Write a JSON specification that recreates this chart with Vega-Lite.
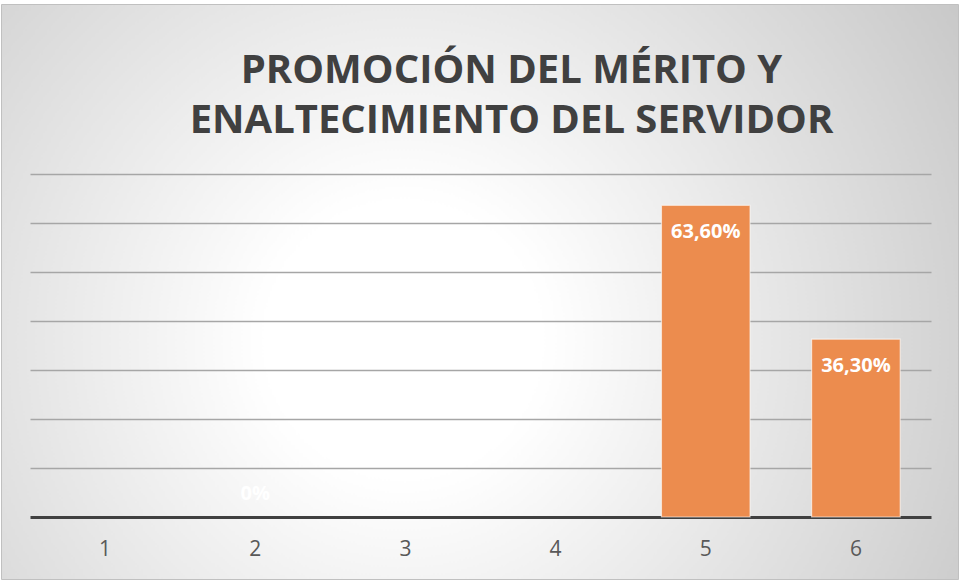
{
  "$schema": "https://vega.github.io/schema/vega-lite/v6.json",
  "width": 957,
  "height": 575,
  "autosize": "none",
  "padding": {"left": 1, "top": 4, "right": 1, "bottom": 2},
  "background": "#ffffff",
  "title": {
    "text": ["PROMOCIÓN DEL MÉRITO Y", "ENALTECIMIENTO DEL SERVIDOR"],
    "font": "Open Sans",
    "fontWeight": "bold",
    "fontSize": 40,
    "lineHeight": 50,
    "color": "#404040",
    "anchor": "middle",
    "offset": -137,
    "dx": 32
  },
  "data": {
    "values": [
      {"cat": "1", "value": null, "label": ""},
      {"cat": "2", "value": 0, "label": "0%"},
      {"cat": "3", "value": null, "label": ""},
      {"cat": "4", "value": null, "label": ""},
      {"cat": "5", "value": 63.6, "label": "63,60%"},
      {"cat": "6", "value": 36.3, "label": "36,30%"}
    ]
  },
  "encoding": {
    "x": {
      "field": "cat",
      "type": "ordinal",
      "scale": {"domain": ["1", "2", "3", "4", "5", "6"], "range": [29, 930], "paddingInner": 0.41, "paddingOuter": 0.205},
      "axis": {
        "title": null,
        "orient": "bottom",
        "offset": -62,
        "labelAngle": 0,
        "labelFont": "Open Sans",
        "labelFontSize": 21,
        "labelColor": "#595959",
        "labelPadding": 21,
        "ticks": false,
        "domainColor": "#404040",
        "domainWidth": 3,
        "grid": false
      }
    },
    "y": {
      "field": "value",
      "type": "quantitative",
      "scale": {"domain": [0, 70], "range": [513, 170], "nice": false, "zero": true},
      "axis": {
        "title": null,
        "labels": false,
        "ticks": false,
        "domain": false,
        "values": [10, 20, 30, 40, 50, 60, 70],
        "grid": true,
        "gridColor": "#a6a6a6",
        "gridWidth": 1.5
      }
    }
  },
  "layer": [
    {
      "mark": {"type": "bar", "color": "#ec8c4e", "stroke": "#ffffff", "strokeOpacity": 0.6, "strokeWidth": 1.2},
      "transform": [{"filter": "datum.value > 0"}]
    },
    {
      "mark": {"type": "text", "font": "Open Sans", "fontWeight": "bold", "fontSize": 20, "color": "#ffffff", "baseline": "top", "dy": 17},
      "transform": [{"filter": "datum.value > 0"}],
      "encoding": {"text": {"field": "label"}}
    },
    {
      "mark": {"type": "text", "font": "Open Sans", "fontWeight": "bold", "fontSize": 20, "color": "#ffffff", "baseline": "alphabetic", "dy": -17},
      "transform": [{"filter": "datum.value == 0"}],
      "encoding": {"text": {"field": "label"}}
    }
  ],
  "config": {
    "view": {
      "stroke": "#c0c0c0",
      "strokeWidth": 1,
      "fill": {
        "gradient": "radial",
        "x1": 0.42, "y1": 0.55, "r1": 0,
        "x2": 0.42, "y2": 0.55, "r2": 0.72,
        "stops": [
          {"offset": 0, "color": "#ffffff"},
          {"offset": 0.2, "color": "#ffffff"},
          {"offset": 1, "color": "#c4c4c4"}
        ]
      }
    }
  }
}
